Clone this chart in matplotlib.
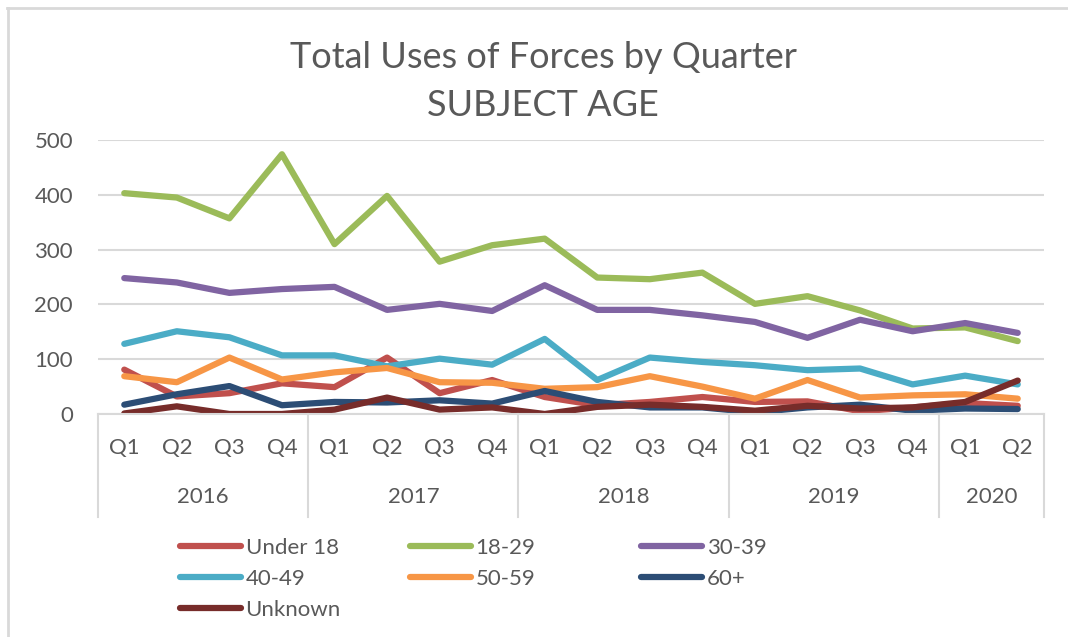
import matplotlib.pyplot as plt
from matplotlib.lines import Line2D

years = ["2016", "2017", "2018", "2019", "2020"]
quarters_per_year = [4, 4, 4, 4, 2]
quarters = ["Q1", "Q2", "Q3", "Q4"] * 4 + ["Q1", "Q2"]

under_18 = [81, 32, 38, 56, 49, 103, 38, 62, 31, 16, 22, 31, 22, 23, 5, 12, 20, 15]
age_18_29 = [403, 395, 357, 474, 310, 398, 278, 308, 320, 249, 246, 258, 201, 215, 189, 156, 158, 133]
age_30_39 = [248, 240, 221, 228, 232, 190, 201, 188, 235, 190, 190, 180, 168, 139, 172, 151, 166, 148]
age_40_49 = [128, 151, 140, 107, 107, 87, 101, 90, 137, 62, 103, 95, 89, 80, 83, 54, 70, 54]
age_50_59 = [69, 58, 103, 63, 76, 84, 58, 57, 46, 49, 69, 50, 28, 62, 30, 34, 36, 28]
age_60_plus = [17, 36, 51, 16, 22, 21, 25, 19, 42, 22, 12, 12, 3, 12, 17, 6, 10, 9]
unknown = [1, 14, 0, 0, 8, 30, 8, 12, 0, 13, 17, 13, 6, 15, 10, 12, 22, 61]

series = [
    ("Under 18", under_18, "#C0504D"),
    ("18-29", age_18_29, "#9BBB59"),
    ("30-39", age_30_39, "#8064A2"),
    ("40-49", age_40_49, "#4BACC6"),
    ("50-59", age_50_59, "#F79646"),
    ("60+", age_60_plus, "#2C4D75"),
    ("Unknown", unknown, "#772C2A"),
]

plt.rcParams["font.family"] = ["Lato", "DejaVu Sans"]
text_color = "#595959"
grid_color = "#D9D9D9"
W, H = 1068, 637

fig = plt.figure(figsize=(W / 100, H / 100), dpi=100)
ax = fig.add_axes([98 / W, 1 - 414 / H, (1044 - 98) / W, (414 - 140) / H])

x = list(range(len(quarters)))
handles = {}
for name, vals, color in series:
    (ln,) = ax.plot(x, vals, color=color, lw=4.5, solid_capstyle="round",
                    solid_joinstyle="round", label=name)
    handles[name] = ln

ax.set_xlim(-0.5, len(quarters) - 0.5)
ax.set_ylim(0, 500)
ax.set_yticks([0, 100, 200, 300, 400, 500])
ax.yaxis.grid(True, color=grid_color, lw=1.5)
ax.set_axisbelow(True)
for s in ["top", "right", "left"]:
    ax.spines[s].set_visible(False)
ax.spines["bottom"].set_color(grid_color)
ax.spines["bottom"].set_linewidth(1.5)
ax.tick_params(axis="y", length=0, pad=18, labelsize=16, labelcolor=text_color)
ax.set_xticks(x)
ax.set_xticklabels(quarters)
ax.tick_params(axis="x", length=0, pad=17, labelsize=16, labelcolor=text_color)

# year groups under the quarter labels
trans = ax.get_xaxis_transform()
start = -0.5
bounds = [start]
for n in quarters_per_year:
    bounds.append(bounds[-1] + n)
for b in bounds:
    ax.plot([b, b], [0, -0.376], transform=trans, color=grid_color, lw=1.5, clip_on=False)
for i, yr in enumerate(years):
    ax.text((bounds[i] + bounds[i + 1]) / 2, -0.303, yr, transform=trans,
            ha="center", va="center", fontsize=16, color=text_color)

fig.text(543 / W, 1 - 58 / H, "Total Uses of Forces by Quarter", ha="center", va="center",
         fontsize=26, color=text_color)
fig.text(543 / W, 1 - 105 / H, "SUBJECT AGE", ha="center", va="center",
         fontsize=26, color=text_color)

# legend laid out in three equal columns, like Excel
columns = [(180, ["Under 18", "40-49", "Unknown"]),
           (410, ["18-29", "50-59"]),
           (641, ["30-39", "60+"])]
for xpos, names in columns:
    leg = fig.legend([handles[n] for n in names], names, loc="upper left",
                     bbox_to_anchor=(xpos / W, 1 - 538 / H), bbox_transform=fig.transFigure,
                     frameon=False, borderpad=0, borderaxespad=0, handlelength=2.75,
                     handletextpad=0.2, labelspacing=0.5, fontsize=16)
    for t in leg.get_texts():
        t.set_color(text_color)

# thin border of the chart box
fig.add_artist(Line2D([7 / W, 1], [1 - 8 / H, 1 - 8 / H], color=grid_color, lw=2))
fig.add_artist(Line2D([8 / W, 8 / W], [0, 1 - 8 / H], color=grid_color, lw=2))

fig.savefig("out.png", dpi=100)
